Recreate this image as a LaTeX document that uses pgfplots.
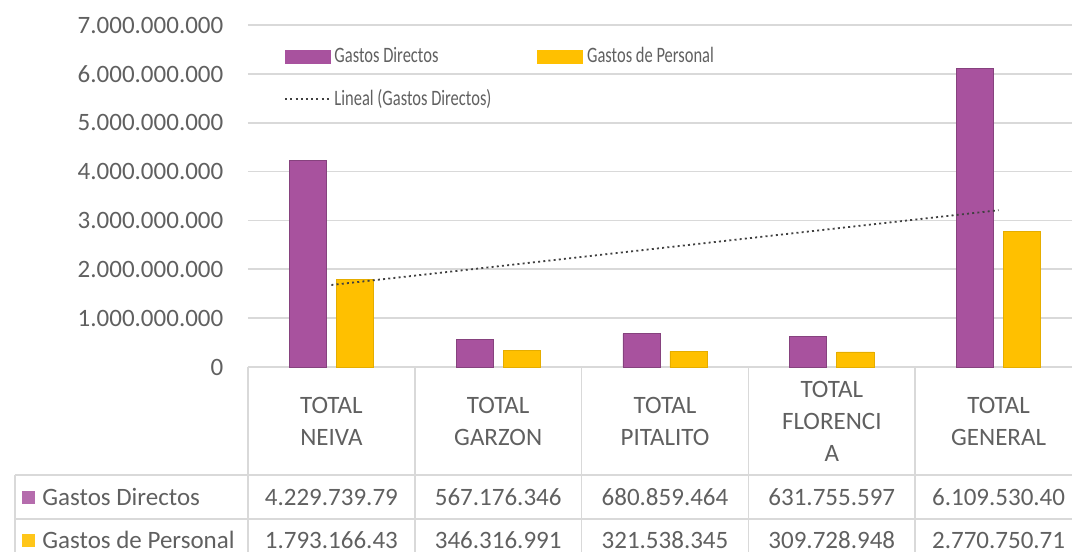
\documentclass[border=0pt]{standalone}
\usepackage{fontspec}
\setmainfont{Carlito}
\newfontfamily\narrowfont[FakeStretch=0.75]{Carlito}
\usepackage{pgfplots}
\pgfplotsset{compat=1.18}
\definecolor{dirc}{HTML}{A8529E}
\definecolor{pers}{HTML}{FFC000}
\definecolor{txt}{HTML}{606060}
\definecolor{gridc}{HTML}{D9D9D9}
\definecolor{trend}{HTML}{404040}

\begin{document}
\begin{tikzpicture}
\path[use as bounding box] (-124pt,-92.5pt) rectangle (412pt,183.5pt);
\begin{axis}[
  at={(0pt,0pt)}, anchor=south west,
  scale only axis, width=417pt, height=171pt,
  xmin=0.5, xmax=5.5, ymin=0, ymax=7000000000,
  xtick=\empty,
  ytick={0,1000000000,2000000000,3000000000,4000000000,5000000000,6000000000,7000000000},
  scaled y ticks=false,
  yticklabel style={/pgf/number format/.cd, fixed, 1000 sep={.}, assume math mode=true,
    /tikz/.cd, font=\fontsize{12.5}{15}\selectfont, text=txt, xshift=-8.8pt},
  ymajorgrids,
  major grid style={draw=gridc, line width=0.8pt},
  axis line style={draw=none},
  tick style={draw=none},
  clip=false,
  legend columns=2,
  legend cell align=left,
  legend style={at={(0.043,0.947)}, anchor=north west, draw=none, fill=none,
    inner sep=0pt, font=\narrowfont\fontsize{11}{13}\selectfont, text=txt,
    /tikz/every even column/.append style={column sep=21pt},
    /tikz/row sep=8pt},
]
\addplot[ybar, bar width=18.5pt, bar shift=-11.75pt, fill=dirc, draw=dirc!80!black, line width=0.3pt,
  legend image code/.code={\fill[dirc] (0pt,-3.25pt) rectangle (22.5pt,3.25pt);}]
  coordinates {(1,4229739790) (2,567176346) (3,680859464) (4,631755597) (5,6109530400)};
\addplot[ybar, bar width=18.5pt, bar shift=11.75pt, fill=pers, draw=pers!90!black, line width=0.3pt,
  legend image code/.code={\fill[pers] (0pt,-3.25pt) rectangle (22.5pt,3.25pt);}]
  coordinates {(1,1793166430) (2,346316991) (3,321538345) (4,309728948) (5,2770750714)};
\addplot[trend, line width=0.9pt, dash pattern=on 1pt off 1.6pt,
  legend image code/.code={\draw[trend, line width=0.9pt, dash pattern=on 1pt off 1.6pt] (0pt,0pt) -- (22pt,0pt);}]
  coordinates {(1,1678980000) (5,3208640000)};
\legend{Gastos Directos, Gastos de Personal, Lineal (Gastos Directos)}
\end{axis}
% data table below the chart
\begin{scope}[gridc, line width=0.8pt]
  \foreach \k in {0,1,2,3,4,5} {\draw (\k*83.4pt,0pt) -- (\k*83.4pt,-92.5pt);}
  \draw (-116.5pt,-54pt) -- (417pt,-54pt);
  \draw (-116.5pt,-76pt) -- (417pt,-76pt);
  \draw (-116.5pt,-54pt) -- (-116.5pt,-92.5pt);
\end{scope}
\begin{scope}[every node/.style={text=txt, font=\fontsize{12.5}{16}\selectfont, align=center}]
  \node at (41.7pt,-27pt) {TOTAL\\NEIVA};
  \node at (125.1pt,-27pt) {TOTAL\\GARZON};
  \node at (208.5pt,-27pt) {TOTAL\\PITALITO};
  \node at (291.9pt,-27pt) {TOTAL\\FLORENCI\\A};
  \node at (375.3pt,-27pt) {TOTAL\\GENERAL};
  \node at (41.7pt,-65pt) {4.229.739.79};
  \node at (125.1pt,-65pt) {567.176.346};
  \node at (208.5pt,-65pt) {680.859.464};
  \node at (291.9pt,-65pt) {631.755.597};
  \node at (375.3pt,-65pt) {6.109.530.40};
  \node at (41.7pt,-86.5pt) {1.793.166.43};
  \node at (125.1pt,-86.5pt) {346.316.991};
  \node at (208.5pt,-86.5pt) {321.538.345};
  \node at (291.9pt,-86.5pt) {309.728.948};
  \node at (375.3pt,-86.5pt) {2.770.750.71};
  \fill[dirc!85!white] (-113pt,-68.25pt) rectangle (-106.5pt,-61.75pt);
  \fill[pers!90!white] (-113pt,-89.75pt) rectangle (-106.5pt,-83.25pt);
  \node[anchor=west, inner sep=0pt] at (-103pt,-65pt) {Gastos Directos};
  \node[anchor=west, inner sep=0pt] at (-103pt,-86.5pt) {Gastos de Personal};
\end{scope}
\end{tikzpicture}
\end{document}
